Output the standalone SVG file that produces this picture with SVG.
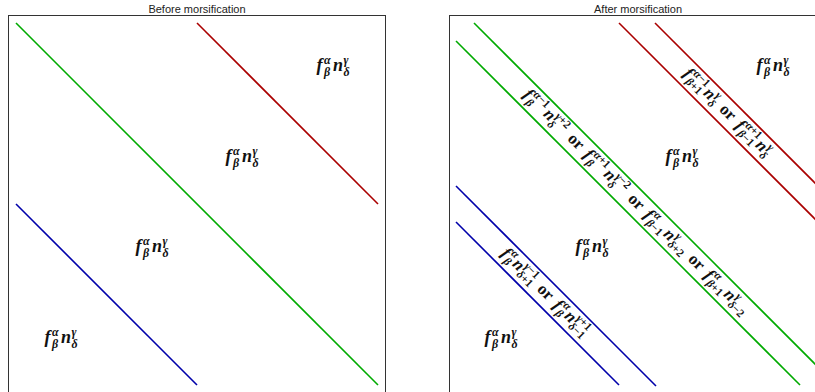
<svg xmlns="http://www.w3.org/2000/svg" width="815" height="392" viewBox="0 0 815 392">
<style>
.frame{fill:none;stroke:#333;stroke-width:1}
.title{font-family:"Liberation Sans",Arial,sans-serif;font-size:11px;fill:#222;text-anchor:middle}
.ln{fill:none;stroke-width:1.6;stroke-linecap:butt}
.g{stroke:#00aa00}.r{stroke:#aa0000}.b{stroke:#0000aa}
.m{font-family:"Liberation Serif","Times New Roman",serif;font-size:17px;font-weight:bold;font-style:italic;fill:#111}
.p{font-size:18px}
.s{font-size:11.5px}
.p .s{font-size:12px}
.u{font-style:normal}
</style>
<rect width="815" height="392" fill="#fff"/>

<g id="panel-before">
  <rect class="frame" x="8.5" y="15.5" width="377" height="390"/>
  <text class="title" x="197" y="13">Before morsification</text>
</g>
<g id="panel-after">
  <rect class="frame" x="449.5" y="15.5" width="377" height="390"/>
  <text class="title" x="638" y="13">After morsification</text>
</g>

<g id="connectors">
  <line class="ln g" x1="16" y1="23" x2="378" y2="385"/>
  <line class="ln r" x1="197" y1="23" x2="378" y2="204"/>
  <line class="ln b" x1="16" y1="204" x2="197" y2="385"/>
  <line class="ln b" x1="456" y1="222" x2="619" y2="385"/>
  <line class="ln b" x1="456" y1="186" x2="656" y2="386"/>
  <line class="ln g" x1="456" y1="41" x2="800" y2="385"/>
  <line class="ln g" x1="474" y1="23" x2="818" y2="367"/>
  <line class="ln r" x1="619" y1="23" x2="818" y2="222"/>
  <line class="ln r" x1="655" y1="23" x2="818" y2="186"/>
</g>

<g id="label-before-1" transform="translate(44.5,343)"><text class="m p"><tspan x="0" y="0">f</tspan><tspan class="s" x="7.5" y="-7.5">α</tspan><tspan class="s" x="7.5" y="4.5">β</tspan><tspan x="16.5" y="0">n</tspan><tspan class="s" x="27" y="-7.5">γ</tspan><tspan class="s" x="27" y="4.5">δ</tspan></text></g>
<g id="label-before-2" transform="translate(135.5,252)"><text class="m p"><tspan x="0" y="0">f</tspan><tspan class="s" x="7.5" y="-7.5">α</tspan><tspan class="s" x="7.5" y="4.5">β</tspan><tspan x="16.5" y="0">n</tspan><tspan class="s" x="27" y="-7.5">γ</tspan><tspan class="s" x="27" y="4.5">δ</tspan></text></g>
<g id="label-before-3" transform="translate(225.5,162)"><text class="m p"><tspan x="0" y="0">f</tspan><tspan class="s" x="7.5" y="-7.5">α</tspan><tspan class="s" x="7.5" y="4.5">β</tspan><tspan x="16.5" y="0">n</tspan><tspan class="s" x="27" y="-7.5">γ</tspan><tspan class="s" x="27" y="4.5">δ</tspan></text></g>
<g id="label-before-4" transform="translate(316.5,71)"><text class="m p"><tspan x="0" y="0">f</tspan><tspan class="s" x="7.5" y="-7.5">α</tspan><tspan class="s" x="7.5" y="4.5">β</tspan><tspan x="16.5" y="0">n</tspan><tspan class="s" x="27" y="-7.5">γ</tspan><tspan class="s" x="27" y="4.5">δ</tspan></text></g>

<g id="label-after-1" transform="translate(484.5,343)"><text class="m p"><tspan x="0" y="0">f</tspan><tspan class="s" x="7.5" y="-7.5">α</tspan><tspan class="s" x="7.5" y="4.5">β</tspan><tspan x="16.5" y="0">n</tspan><tspan class="s" x="27" y="-7.5">γ</tspan><tspan class="s" x="27" y="4.5">δ</tspan></text></g>
<g id="label-after-2" transform="translate(575.5,252)"><text class="m p"><tspan x="0" y="0">f</tspan><tspan class="s" x="7.5" y="-7.5">α</tspan><tspan class="s" x="7.5" y="4.5">β</tspan><tspan x="16.5" y="0">n</tspan><tspan class="s" x="27" y="-7.5">γ</tspan><tspan class="s" x="27" y="4.5">δ</tspan></text></g>
<g id="label-after-3" transform="translate(665.5,162)"><text class="m p"><tspan x="0" y="0">f</tspan><tspan class="s" x="7.5" y="-7.5">α</tspan><tspan class="s" x="7.5" y="4.5">β</tspan><tspan x="16.5" y="0">n</tspan><tspan class="s" x="27" y="-7.5">γ</tspan><tspan class="s" x="27" y="4.5">δ</tspan></text></g>
<g id="label-after-4" transform="translate(756.5,71)"><text class="m p"><tspan x="0" y="0">f</tspan><tspan class="s" x="7.5" y="-7.5">α</tspan><tspan class="s" x="7.5" y="4.5">β</tspan><tspan x="16.5" y="0">n</tspan><tspan class="s" x="27" y="-7.5">γ</tspan><tspan class="s" x="27" y="4.5">δ</tspan></text></g>

<g id="strip-blue-label" transform="translate(544.75,292.75) rotate(45) translate(-58.5,4)"><text class="m"><tspan x="0" y="0">f</tspan><tspan class="s" x="7" y="-7">α</tspan><tspan class="s" x="7" y="4">β</tspan><tspan x="15.4" y="0">n</tspan><tspan class="s" x="25.35" y="-7">γ<tspan class="u">−1</tspan></tspan><tspan class="s" x="25.35" y="4">δ<tspan class="u">+1</tspan></tspan><tspan class="u" x="50.45" y="0">or</tspan><tspan x="73.5" y="0">f</tspan><tspan class="s" x="80.5" y="-7">α</tspan><tspan class="s" x="80.5" y="4">β</tspan><tspan x="88.9" y="0">n</tspan><tspan class="s" x="98.85" y="-7">γ<tspan class="u">+1</tspan></tspan><tspan class="s" x="98.85" y="4">δ<tspan class="u">−1</tspan></tspan></text></g>

<g id="strip-red-label" transform="translate(727,113) rotate(45) translate(-58.5,4)"><text class="m"><tspan x="0" y="0">f</tspan><tspan class="s" x="7" y="-7">α<tspan class="u">−1</tspan></tspan><tspan class="s" x="7" y="4">β<tspan class="u">+1</tspan></tspan><tspan x="27.75" y="0">n</tspan><tspan class="s" x="37.7" y="-7">γ</tspan><tspan class="s" x="37.7" y="4">δ</tspan><tspan class="u" x="50.45" y="0">or</tspan><tspan x="73.5" y="0">f</tspan><tspan class="s" x="80.5" y="-7">α<tspan class="u">+1</tspan></tspan><tspan class="s" x="80.5" y="4">β<tspan class="u">−1</tspan></tspan><tspan x="101.25" y="0">n</tspan><tspan class="s" x="111.2" y="-7">γ</tspan><tspan class="s" x="111.2" y="4">δ</tspan></text></g>

<g id="strip-green-label" transform="translate(635.5,202.5) rotate(45) translate(-155.4,4)"><text class="m"><tspan x="0" y="0">f</tspan><tspan class="s" x="7" y="-7">α<tspan class="u">−1</tspan></tspan><tspan class="s" x="7" y="4">β</tspan><tspan x="27.75" y="0">n</tspan><tspan class="s" x="37.7" y="-7">γ<tspan class="u">+2</tspan></tspan><tspan class="s" x="37.7" y="4">δ</tspan><tspan class="u" x="62.15" y="0">or</tspan><tspan x="85.2" y="0">f</tspan><tspan class="s" x="92.2" y="-7">α<tspan class="u">+1</tspan></tspan><tspan class="s" x="92.2" y="4">β</tspan><tspan x="112.95" y="0">n</tspan><tspan class="s" x="122.9" y="-7">γ<tspan class="u">−2</tspan></tspan><tspan class="s" x="122.9" y="4">δ</tspan><tspan class="u" x="147.35" y="0">or</tspan><tspan x="170.4" y="0">f</tspan><tspan class="s" x="177.4" y="-7">α</tspan><tspan class="s" x="177.4" y="4">β<tspan class="u">−1</tspan></tspan><tspan x="197.5" y="0">n</tspan><tspan class="s" x="207.45" y="-7">γ</tspan><tspan class="s" x="207.45" y="4">δ<tspan class="u">+2</tspan></tspan><tspan class="u" x="232.55" y="0">or</tspan><tspan x="255.6" y="0">f</tspan><tspan class="s" x="262.6" y="-7">α</tspan><tspan class="s" x="262.6" y="4">β<tspan class="u">+1</tspan></tspan><tspan x="282.7" y="0">n</tspan><tspan class="s" x="292.65" y="-7">γ</tspan><tspan class="s" x="292.65" y="4">δ<tspan class="u">−2</tspan></tspan></text></g>
</svg>
